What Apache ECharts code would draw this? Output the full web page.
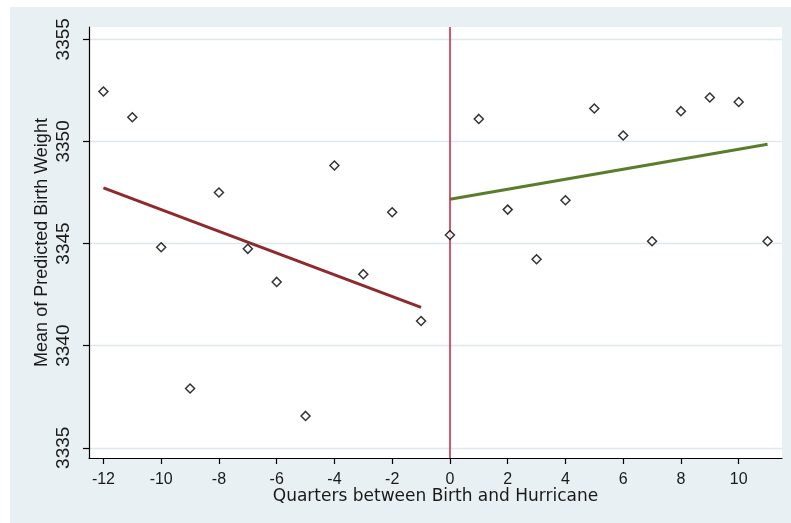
<!DOCTYPE html>
<html>
<head>
<meta charset="utf-8">
<script src="https://cdn.jsdelivr.net/npm/echarts@6/dist/echarts.min.js"></script>
<style>
  html, body { margin: 0; padding: 0; background: #ffffff; }
  #chart { width: 791px; height: 523px; }
</style>
</head>
<body>
<div id="chart"></div>
<script>
  const quarters = [-12, -11, -10, -9, -8, -7, -6, -5, -4, -3, -2, -1, 0, 1, 2, 3, 4, 5, 6, 7, 8, 9, 10, 11]
  const meanWeight = [
    3352.44, 3351.18, 3344.82, 3337.9, 3347.5, 3344.74, 3343.12, 3336.56, 3348.82, 3343.5, 3346.53, 3341.21,
    3345.42, 3351.1, 3346.66, 3344.23, 3347.12, 3351.61, 3350.29, 3345.11, 3351.48, 3352.15, 3351.93, 3345.11
  ]
  const preFitX = [-12, -1]
  const preFitY = [3347.72, 3341.87]
  const postFitX = [0, 11]
  const postFitY = [3347.17, 3349.86]
  const xTicks = [-12, -10, -8, -6, -4, -2, 0, 2, 4, 6, 8, 10]
  const yTicks = [3335, 3340, 3345, 3350, 3355]
  const cutoff = 0

  const pairs = (xs, ys) => xs.map((x, i) => [x, ys[i]])

  const chart = echarts.init(document.getElementById('chart'), null, { renderer: 'canvas' })
  chart.setOption({
    animation: false,
    backgroundColor: '#ffffff',
    graphic: [{
      type: 'rect',
      left: 10,
      top: 7,
      z: -10,
      shape: { width: 781, height: 516 },
      style: { fill: '#e8f0f3' }
    }],
    grid: {
      left: 89,
      top: 27,
      right: 9,
      bottom: 65,
      show: true,
      backgroundColor: '#ffffff',
      borderWidth: 0
    },
    xAxis: {
      type: 'value',
      min: -12.5,
      max: 11.5,
      name: 'Quarters between Birth and Hurricane',
      nameLocation: 'middle',
      nameGap: 30,
      nameMoveOverlap: false,
      nameTextStyle: { fontFamily: 'DejaVu Sans', fontSize: 17, color: '#1a1a1a' },
      axisLine: { show: true, onZero: false, lineStyle: { color: '#000000', width: 1.2 } },
      axisTick: { show: true, length: 6, customValues: xTicks, lineStyle: { color: '#000000', width: 1.2 } },
      axisLabel: { customValues: xTicks, margin: 14, fontFamily: 'Liberation Sans', fontSize: 16, color: '#1a1a1a' },
      splitLine: { show: false }
    },
    yAxis: {
      type: 'value',
      min: 3334.5,
      max: 3355.6,
      name: 'Mean of Predicted Birth Weight',
      nameLocation: 'middle',
      nameGap: 38,
      nameMoveOverlap: false,
      nameRotate: 90,
      nameTextStyle: { fontFamily: 'Liberation Sans', fontSize: 18, color: '#1a1a1a' },
      axisLine: { show: true, onZero: false, lineStyle: { color: '#000000', width: 1.2 } },
      axisTick: { show: true, length: 6, customValues: yTicks, lineStyle: { color: '#000000', width: 1.2 } },
      axisLabel: {
        customValues: yTicks,
        rotate: 90,
        margin: 16,
        fontFamily: 'Liberation Sans',
        fontSize: 19,
        color: '#1a1a1a',
        formatter: v => String(v)
      },
      splitLine: { show: true, lineStyle: { color: '#dde8ec', width: 1.3 } }
    },
    series: [
      {
        name: 'Mean',
        type: 'scatter',
        symbol: 'diamond',
        symbolSize: 9,
        itemStyle: { color: '#ffffff', borderColor: '#000000', borderWidth: 1.5 },
        data: pairs(quarters, meanWeight),
        z: 5,
        markLine: {
          silent: true,
          symbol: 'none',
          label: { show: false },
          lineStyle: { color: '#c8203f', width: 1.5, type: 'solid' },
          data: [{ xAxis: cutoff }]
        }
      },
      {
        name: 'Before',
        type: 'line',
        symbol: 'none',
        lineStyle: { color: '#8f2a2c', width: 3 },
        data: pairs(preFitX, preFitY),
        z: 4
      },
      {
        name: 'After',
        type: 'line',
        symbol: 'none',
        lineStyle: { color: '#5a7d2c', width: 3 },
        data: pairs(postFitX, postFitY),
        z: 4
      }
    ]
  })
</script>
</body>
</html>
